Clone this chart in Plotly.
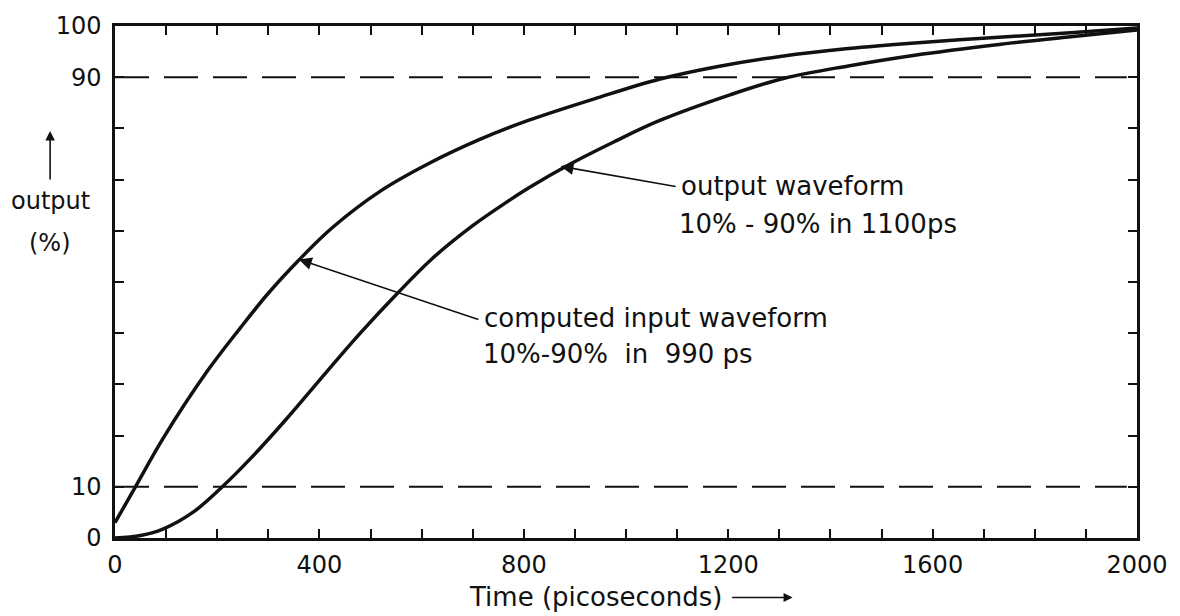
import plotly.graph_objects as go

# Computed input waveform (left curve), time in ps, output in %
t_input = [0, 40, 95, 180, 245, 300, 360, 425, 520, 615, 715, 810, 945, 1065,
           1175, 1305, 1435, 1565, 1730, 1870, 2000]
v_input = [3.0, 10, 19.6, 32.5, 41, 47.8, 54.3, 60.6, 67.8, 73.2, 77.9, 81.6, 86.0, 89.6,
           92.0, 94.1, 95.6, 96.7, 97.8, 98.7, 99.6]

# Output waveform (right curve)
t_output = [0, 50, 95, 155, 210, 265, 335, 400, 480, 550, 620, 700, 765, 810, 890,
            975, 1065, 1205, 1310, 1435, 1565, 1730, 1870, 2000]
v_output = [0, 0.5, 1.8, 5.2, 10, 15.5, 23.2, 30.8, 40.0, 47.5, 54.5, 61.0, 65.5, 68.4, 73.0,
            77.3, 81.5, 86.6, 89.8, 92.2, 94.3, 96.4, 97.9, 99.2]

# Reference levels
ref_levels = [10, 90]
ref_span = [0, 1980]

x_tickvals = [0, 400, 800, 1200, 1600, 2000]
y_tickvals = [0, 10, 90, 100]

FONT = "DejaVu Sans"
BLACK = "#111111"

fig = go.Figure()

for lvl in ref_levels:
    fig.add_trace(go.Scatter(x=ref_span, y=[lvl, lvl], mode="lines",
                             line=dict(color=BLACK, width=2, dash="34px,15px"),
                             showlegend=False, hoverinfo="skip"))

fig.add_trace(go.Scatter(x=t_input, y=v_input, mode="lines",
                         line=dict(color=BLACK, width=3.5, shape="spline", smoothing=1.0),
                         name="computed input waveform", showlegend=False))
fig.add_trace(go.Scatter(x=t_output, y=v_output, mode="lines",
                         line=dict(color=BLACK, width=3.5, shape="spline", smoothing=1.0),
                         name="output waveform", showlegend=False))

axis_common = dict(showline=True, linecolor=BLACK, linewidth=2.5, mirror="ticks",
                   ticks="inside", ticklen=9, tickwidth=2, tickcolor=BLACK,
                   showgrid=False, zeroline=False,
                   tickfont=dict(family=FONT, size=24, color=BLACK))

fig.update_xaxes(range=[0, 2000], tickvals=x_tickvals, ticklabelstandoff=3,
                 minor=dict(dtick=100, tick0=0, ticks="inside", ticklen=9,
                            tickwidth=2, tickcolor=BLACK, showgrid=False),
                 **axis_common)
fig.update_yaxes(range=[0, 100], tickvals=y_tickvals, ticklabelstandoff=6,
                 minor=dict(dtick=10, tick0=0, ticks="inside", ticklen=9,
                            tickwidth=2, tickcolor=BLACK, showgrid=False),
                 **axis_common)

ann_font = dict(family=FONT, size=26, color=BLACK)
lab_font = dict(family=FONT, size=24, color=BLACK)

annotations = [
    # output waveform pointer
    dict(x=872, y=72.6, ax=1100, ay=68.6, xref="x", yref="y", axref="x", ayref="y",
         text="", showarrow=True, arrowhead=2, arrowsize=1.6, arrowwidth=1.6,
         arrowcolor=BLACK),
    dict(x=1104, y=68.8, xref="x", yref="y", text="output waveform", showarrow=False,
         xanchor="left", yanchor="middle", font=ann_font),
    dict(x=1100, y=61.4, xref="x", yref="y", text="10% - 90% in 1100ps", showarrow=False,
         xanchor="left", yanchor="middle", font=ann_font),
    # computed input waveform pointer
    dict(x=360, y=54.4, ax=714, ay=42.6, xref="x", yref="y", axref="x", ayref="y",
         text="", showarrow=True, arrowhead=2, arrowsize=1.6, arrowwidth=1.6,
         arrowcolor=BLACK),
    dict(x=718, y=43.0, xref="x", yref="y", text="computed input waveform", showarrow=False,
         xanchor="left", yanchor="middle", font=ann_font),
    dict(x=716, y=36.0, xref="x", yref="y", text="10%-90%  in  990 ps", showarrow=False,
         xanchor="left", yanchor="middle", font=ann_font),
    # y axis label
    dict(x=-0.0635, y=0.795, ax=0, ay=50, xref="paper", yref="paper", text="",
         showarrow=True, arrowhead=2, arrowsize=1.2, arrowwidth=1.6, arrowcolor=BLACK),
    dict(x=-0.0635, y=0.659, xref="paper", yref="paper", text="output", showarrow=False,
         xanchor="center", yanchor="middle", font=lab_font),
    dict(x=-0.0635, y=0.576, xref="paper", yref="paper", text="(%)", showarrow=False,
         xanchor="center", yanchor="middle", font=lab_font),
    # x axis label
    dict(x=0.4697, y=-0.116, xref="paper", yref="paper", text="Time (picoseconds)",
         showarrow=False, xanchor="center", yanchor="middle", font=ann_font),
    dict(x=0.663, y=-0.116, ax=-62, ay=0, xref="paper", yref="paper", text="",
         showarrow=True, arrowhead=2, arrowsize=1.2, arrowwidth=1.5, arrowcolor=BLACK),
]

fig.update_layout(width=1180, height=616,
                  margin=dict(l=115, r=42, t=22, b=78),
                  paper_bgcolor="white", plot_bgcolor="white",
                  annotations=annotations, showlegend=False)

fig.write_html("out.html", config={"displayModeBar": False},
               post_script="document.body.style.margin='0px';")
